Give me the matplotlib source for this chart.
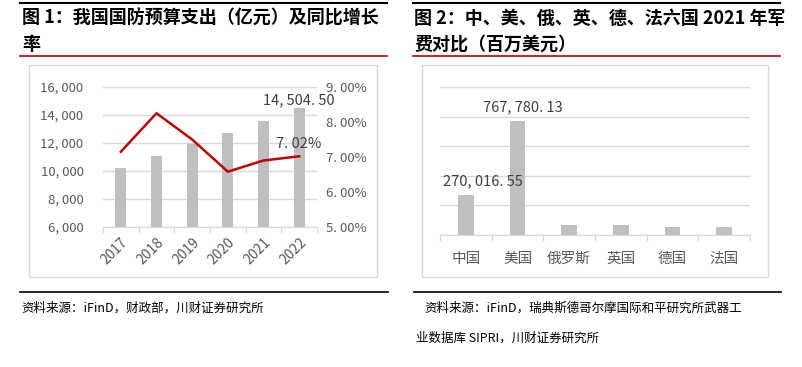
import matplotlib
matplotlib.use("Agg")
import matplotlib.pyplot as plt
from matplotlib.patches import Rectangle
from matplotlib.lines import Line2D
from matplotlib.ticker import FuncFormatter

plt.rcParams['font.family'] = ['Noto Sans CJK SC', 'DejaVu Sans']

# %% data
years = ['2017', '2018', '2019', '2020', '2021', '2022']
budget = [10210, 11069.5, 11898.8, 12680.0, 13553.4, 14504.50]
growth = [0.0715, 0.0825, 0.075, 0.0658, 0.069, 0.0702]

countries = ['中国', '美国', '俄罗斯', '英国', '德国', '法国']
spending = [270016.55, 767780.13, 65900, 68400, 56000, 56600]

W, H = 802, 367
BAR = '#bfbfbf'
GRID = '#d9d9d9'
TICK = '#595959'

fig = plt.figure(figsize=(W / 100, H / 100), dpi=100)


def px_axes(x0, y0, x1, y1):
    # pixel box (top-left origin) -> figure axes
    return fig.add_axes([x0 / W, 1 - y1 / H, (x1 - x0) / W, (y1 - y0) / H])


def hline(x0, x1, y, color, lw):
    fig.add_artist(Line2D([x0 / W, x1 / W], [1 - y / H, 1 - y / H], color=color, lw=lw))


def box(x0, y0, x1, y1):
    fig.add_artist(Rectangle((x0 / W, 1 - y1 / H), (x1 - x0) / W, (y1 - y0) / H,
                             fill=False, edgecolor=GRID, lw=1))


def ftext(x, y, s, **kw):
    fig.text(x / W, 1 - y / H, s, **kw)


def num(v, d=0):
    # the report font puts wide gaps after separators
    return f"{v:,.{d}f}".replace(",", ", ").replace(".", ". ")


comma = lambda v, p: num(v)
pct = lambda v, p: f"{v * 100:.2f}%".replace(".", ". ")

# %% headers / footers
hline(20, 387, 3, 'black', 1.5)
hline(413, 780, 3, 'black', 1.5)
hline(20, 387, 56, '#c00000', 1.2)
hline(413, 780, 56, '#c00000', 1.2)
ftext(22, 18, '图 1：我国国防预算支出（亿元）及同比增长', fontsize=13, fontweight='bold', va='center')
ftext(22, 44, '率', fontsize=13, fontweight='bold', va='center')
ftext(414, 18, '图 2：中、美、俄、英、德、法六国 2021 年军', fontsize=13, fontweight='bold', va='center')
ftext(414, 44, '费对比（百万美元）', fontsize=13, fontweight='bold', va='center')

box(29, 65, 377, 277)
box(422, 65, 768, 277)

hline(20, 388, 292, 'black', 1.2)
hline(414, 781, 292, 'black', 1.2)
ftext(21, 308, '资料来源：iFinD，财政部，川财证券研究所', fontsize=9, va='center', style='italic')
ftext(424, 308, '资料来源：iFinD，瑞典斯德哥尔摩国际和平研究所武器工', fontsize=9, va='center', style='italic')
ftext(416, 338, '业数据库 SIPRI，川财证券研究所', fontsize=9, va='center', style='italic')

# %% chart 1
ax = px_axes(103, 87, 317, 227)
x = range(len(years))
ax.bar(x, budget, width=0.3, color=BAR, zorder=2)
ax.set_xlim(-0.5, 5.5)
ax.set_ylim(6000, 16000)
ax.set_yticks(range(6000, 16001, 2000))
ax.yaxis.set_major_formatter(FuncFormatter(comma))
ax.grid(axis='y', color=GRID, lw=1, zorder=0)
for s in ['top', 'right', 'left']:
    ax.spines[s].set_visible(False)
ax.spines['bottom'].set_color(GRID)
ax.set_xticks([i - 0.5 for i in range(7)], minor=False)
ax.set_xticklabels([])
ax.set_xticks(list(x), minor=True)
ax.set_xticklabels(years, minor=True, rotation=45, ha='right', va='top', rotation_mode='anchor')
ax.tick_params(axis='x', which='major', length=4, color=GRID)
ax.tick_params(axis='x', which='minor', length=0, pad=6, labelsize=10, labelcolor=TICK)
ax.tick_params(axis='y', length=0, labelsize=9.5, labelcolor=TICK, pad=14)
ax.text(5, budget[-1] + 50, num(budget[-1], 2),
        ha='center', va='bottom', fontsize=10.5, color='#404040')

ax2 = ax.twinx()
ax2.plot(list(x), growth, color='#c00000', lw=1.8, zorder=3)
ax2.set_ylim(0.05, 0.09)
ax2.set_yticks([0.05, 0.06, 0.07, 0.08, 0.09])
ax2.yaxis.set_major_formatter(FuncFormatter(pct))
ax2.tick_params(axis='y', length=0, labelsize=9.5, labelcolor=TICK, pad=6.5)
for s in ax2.spines.values():
    s.set_visible(False)
ax2.text(5, growth[-1] + 0.0015, pct(growth[-1], 0), ha='center', va='bottom',
         fontsize=10.5, color='#404040')

# %% chart 2
bx = px_axes(440, 87, 750, 235)
c = range(len(countries))
bx.bar(c, spending, width=0.3, color=BAR, zorder=2)
bx.set_xlim(-0.5, 5.5)
bx.set_ylim(0, 1000000)
bx.set_yticks(range(0, 1000001, 200000))
bx.set_yticklabels([])
bx.tick_params(axis='y', length=0)
bx.grid(axis='y', color=GRID, lw=1, zorder=0)
for s in ['top', 'right', 'left']:
    bx.spines[s].set_visible(False)
bx.spines['bottom'].set_color(GRID)
bx.set_xticks([i - 0.5 for i in range(7)])
bx.set_xticklabels([])
bx.set_xticks(list(c), minor=True)
bx.set_xticklabels(countries, minor=True)
bx.tick_params(axis='x', which='major', length=4, color=GRID)
bx.tick_params(axis='x', which='minor', length=0, pad=12, labelsize=10.5, labelcolor=TICK)
for i, dx in ((0, 0.33), (1, 0.1)):
    bx.text(i + dx, spending[i] + 45000, num(spending[i], 2), ha='center', va='bottom',
            fontsize=10.5, color='#404040')

fig.savefig('out.png', dpi=100)
